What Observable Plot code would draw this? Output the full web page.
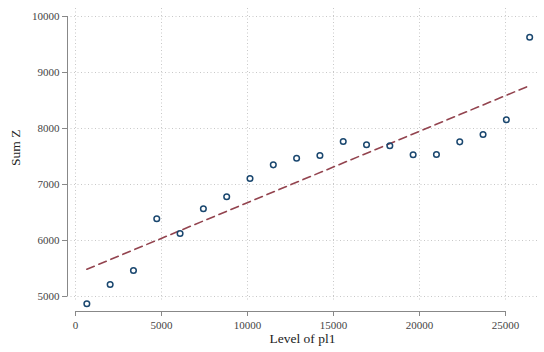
<!DOCTYPE html>
<html>
<head>
<meta charset="utf-8">
<script src="https://cdn.jsdelivr.net/npm/d3@7"></script>
<script src="https://cdn.jsdelivr.net/npm/@observablehq/plot@0.6"></script>
<style>
  html, body { margin: 0; padding: 0; background: #fff; }
  #chart svg { display: block; }
  #chart svg, #chart svg g, #chart svg text {
    font-family: "Liberation Serif", "Times New Roman", serif !important;
    font-variant: normal !important;
    font-variant-numeric: normal !important;
  }
</style>
</head>
<body>
<div id="chart"></div>
<script>
// Data
const levels = [660, 2015, 3370, 4725, 6080, 7435, 8790, 10145, 11500, 12855,
                14210, 15565, 16920, 18275, 19630, 20985, 22340, 23695, 25050, 26405];
const sumZ = [4870, 5214, 5464, 6387, 6125, 6566, 6780, 7107, 7351, 7470,
              7518, 7768, 7709, 7691, 7530, 7536, 7762, 7893, 8155, 9630];
const xTicks = [0, 5000, 10000, 15000, 20000, 25000];
const yTicks = [5000, 6000, 7000, 8000, 9000, 10000];
const xTitle = "Level of pl1";
const yTitle = "Sum Z";

const data = levels.map((x, i) => ({x, y: sumZ[i]}));

const font = "Liberation Serif";
const gridStyle = {stroke: "#c8c8c8", strokeWidth: 1, strokeDasharray: "1,2.5"};
const fmt = d3.format("d");

const chart = Plot.plot({
  width: 544,
  height: 352,
  marginLeft: 67,
  marginRight: 7,
  marginTop: 8,
  marginBottom: 41,
  style: {fontFamily: font, fontSize: "11px", color: "#444", background: "#fff"},
  x: {domain: [-465, 26860], ticks: xTicks, label: null, tickFormat: fmt},
  y: {domain: [4732, 10143], ticks: yTicks, label: null, tickFormat: fmt},
  marks: [
    Plot.ruleY(yTicks, gridStyle),
    Plot.ruleX(xTicks, {...gridStyle, y1: 10143, y2: 4930}),
    Plot.ruleX([-465], {y1: d3.min(yTicks), y2: d3.max(yTicks), stroke: "#888"}),
    Plot.ruleY([4732], {x1: d3.min(xTicks), x2: d3.max(xTicks), stroke: "#888"}),
    Plot.axisY({ticks: yTicks, tickFormat: fmt, tickSize: 5, tickPadding: 3, stroke: "#888", fill: "#444", label: null, fontSize: 11, fontFamily: font, fontVariant: "normal"}),
    Plot.axisX({ticks: xTicks, tickFormat: fmt, tickSize: 5, tickPadding: 5, stroke: "#888", fill: "#444", label: null, fontSize: 11, fontFamily: font, fontVariant: "normal"}),
    Plot.linearRegressionY(data, {x: "x", y: "y", ci: 0, stroke: "#93444f", strokeWidth: 1.6, strokeDasharray: "8,5"}),
    Plot.dot(data, {x: "x", y: "y", r: 2.8, stroke: "#1a476f", strokeWidth: 1.5, fill: "none"}),
    Plot.text([xTitle], {frameAnchor: "bottom", dy: 31, fontSize: 13.5, fill: "#222"}),
    Plot.text([yTitle], {frameAnchor: "left", rotate: -90, dx: -52, dy: 6, fontSize: 13.5, fill: "#222"})
  ]
});
document.getElementById("chart").appendChild(chart);
</script>
</body>
</html>
